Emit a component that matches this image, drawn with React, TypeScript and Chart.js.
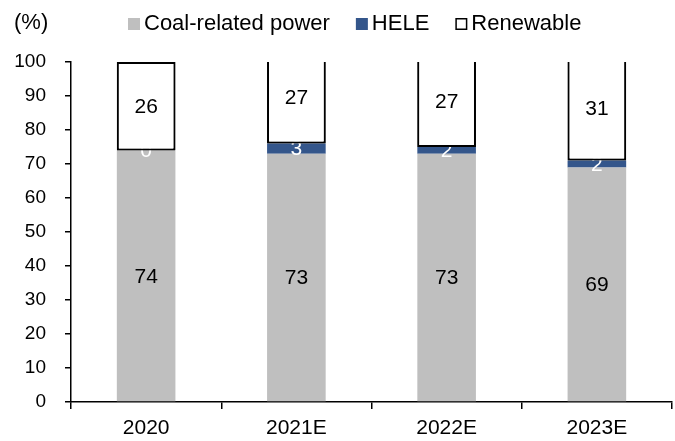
import React, { useEffect, useRef } from 'react';
import { Chart, registerables } from 'chart.js';

Chart.register(...registerables);

const categories = ['2020', '2021E', '2022E', '2023E'];
const coalValues = [74, 73, 73, 69];
const heleValues = [0, 3, 2, 2];
const renewableValues = [26, 27, 27, 31];
const seriesNames = ['Coal-related power', 'HELE', 'Renewable'];
const unitLabel = '(%)';
const yMin = 0;
const yMax = 100;
const yStep = 10;

const FONT = "'Liberation Sans', Arial, sans-serif";
const COAL = '#BFBFBF';
const HELE = '#34568B';

const labelsPlugin = {
  id: 'segLabels',
  afterDatasetsDraw(chart: any) {
    const ctx = chart.ctx;
    const area = chart.chartArea;
    const drawLabels = (idx: number, color: string) => {
      const meta = chart.getDatasetMeta(idx);
      const ds = chart.data.datasets[idx];
      ctx.save();
      ctx.fillStyle = color;
      ctx.font = `21px ${FONT}`;
      ctx.textAlign = 'center';
      ctx.textBaseline = 'middle';
      meta.data.forEach((el: any, i: number) => {
        const p = el.getProps(['x', 'y', 'base'], true);
        ctx.fillText(String(ds.data[i]), p.x, (p.y + p.base) / 2 + 1);
      });
      ctx.restore();
    };
    drawLabels(0, '#000');
    drawLabels(1, '#fff');
    // redraw renewable bars over the HELE labels (as in the reference)
    ctx.save();
    ctx.beginPath();
    ctx.rect(area.left, area.top, area.right - area.left, area.bottom - area.top);
    ctx.clip();
    chart.getDatasetMeta(2).controller.draw();
    ctx.restore();
    drawLabels(2, '#000');
  },
};

const legendPlugin = {
  id: 'customLegend',
  afterDraw(chart: any) {
    const ctx = chart.ctx;
    ctx.save();
    ctx.font = `22px ${FONT}`;
    ctx.textBaseline = 'middle';
    ctx.fillStyle = '#000';
    ctx.textAlign = 'left';
    ctx.fillText(unitLabel, 14, 23);
    let x = 128;
    const y = 24;
    chart.data.datasets.forEach((ds: any, i: number) => {
      const box = 12;
      if (i === 2) {
        ctx.fillStyle = '#fff';
        ctx.fillRect(x, y - box / 2, box, box);
        ctx.strokeStyle = '#000';
        ctx.lineWidth = 1.5;
        ctx.strokeRect(x + 0.75, y - box / 2 + 0.75, box - 1.5, box - 1.5);
      } else {
        ctx.fillStyle = ds.backgroundColor;
        ctx.fillRect(x, y - box / 2, box, box);
      }
      x += box + 4;
      ctx.fillStyle = '#000';
      ctx.fillText(ds.label, x, y);
      x += ctx.measureText(ds.label).width + 26;
    });
    ctx.restore();
  },
};

export default function App() {
  const ref = useRef<HTMLCanvasElement | null>(null);
  useEffect(() => {
    if (!ref.current) return;
    const chart = new Chart(ref.current, {
      type: 'bar',
      data: {
        labels: categories,
        datasets: [
          { label: seriesNames[0], data: coalValues, backgroundColor: COAL, borderWidth: 0 },
          { label: seriesNames[1], data: heleValues, backgroundColor: HELE, borderWidth: 0 },
          {
            label: seriesNames[2],
            data: renewableValues,
            backgroundColor: '#fff',
            borderColor: '#000',
            borderWidth: 2,
            borderSkipped: false,
          },
        ],
      },
      options: {
        responsive: false,
        animation: false,
        datasets: { bar: { categoryPercentage: 1, barPercentage: 0.39 } },
        layout: { padding: { top: 62, right: 3, left: 0, bottom: 0 } },
        plugins: { legend: { display: false }, tooltip: { enabled: false } },
        scales: {
          x: {
            stacked: true,
            grid: { drawOnChartArea: false, drawTicks: true, tickLength: 7, color: '#000', offset: true, lineWidth: 1.5 },
            border: { display: true, color: '#000', width: 1.5 },
            ticks: { font: { family: FONT, size: 21 }, color: '#000', padding: 7 },
            afterFit: (s: any) => { s.height = 39; },
          },
          y: {
            stacked: true,
            min: yMin,
            max: yMax,
            grid: { drawOnChartArea: false, drawTicks: true, tickLength: 6, color: '#000', lineWidth: 1.5 },
            border: { display: true, color: '#000', width: 1.5 },
            ticks: { stepSize: yStep, font: { family: FONT, size: 19 }, color: '#000', padding: 19 },
            afterFit: (s: any) => { s.width = 71; },
          },
        },
      },
      plugins: [labelsPlugin, legendPlugin],
    });
    return () => chart.destroy();
  }, []);
  return (
    <div style={{ position: 'absolute', left: 0, top: 0, width: 675, height: 441, background: '#fff' }}>
      <canvas ref={ref} width={675} height={441} />
    </div>
  );
}
